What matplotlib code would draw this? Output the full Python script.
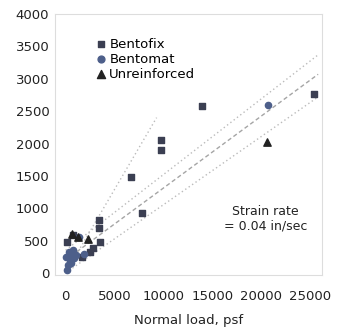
import matplotlib
matplotlib.use("Agg")
import matplotlib.pyplot as plt

# Data (normal load psf, shear strength psf)
bentofix_x = [9700, 9700, 6700, 7800, 3450, 3450, 3500, 2450, 1650, 100, 13900, 25400, 720, 2800]
bentofix_y = [2050, 1900, 1480, 930, 820, 700, 480, 330, 250, 480, 2580, 2770, 590, 380]

bentomat_x = [0, 300, 500, 800, 1100, 200, 600, 900, 100, 400, 20700, 1400, 1900, 700]
bentomat_y = [250, 320, 200, 350, 280, 120, 150, 230, 40, 300, 2600, 560, 300, 300]

unreinf_x = [20600, 700, 1300, 2250]
unreinf_y = [2020, 600, 560, 520]

# envelope lines (x endpoints, y endpoints)
line_upper_x = [0, 9300]
line_upper_y = [0, 2400]
line_top_x = [0, 25800]
line_top_y = [350, 3370]
line_mean_x = [0, 25800]
line_mean_y = [200, 3070]
line_low_x = [0, 25800]
line_low_y = [0, 2720]

plt.rcParams['font.family'] = ['DejaVu Sans']
fig = plt.figure(figsize=(3.47, 3.28), dpi=100)
ax = fig.add_axes([0.158, 0.162, 0.77, 0.795])

lc = '#bbbbbb'
ax.plot(line_upper_x, line_upper_y, ls=(0, (1, 2)), color=lc, lw=1.0, zorder=1)
ax.plot(line_top_x, line_top_y, ls=(0, (1, 2)), color=lc, lw=1.0, zorder=1)
ax.plot(line_mean_x, line_mean_y, ls=(0, (3, 2)), color='#a5a5a5', lw=1.0, zorder=1)
ax.plot(line_low_x, line_low_y, ls=(0, (1, 2)), color=lc, lw=1.0, zorder=1)

ax.scatter(bentofix_x, bentofix_y, marker='s', s=20, color='#3b3f52', label='Bentofix', zorder=3)
ax.scatter(bentomat_x, bentomat_y, marker='o', s=20, color='#4d5f8a', label='Bentomat', zorder=3)
ax.scatter(unreinf_x, unreinf_y, marker='^', s=28, color='#222222', label='Unreinforced', zorder=3)

ax.set_xlim(-1100, 26200)
ax.set_ylim(-30, 4000)
ax.set_xticks([0, 5000, 10000, 15000, 20000, 25000])
ax.set_yticks([0, 500, 1000, 1500, 2000, 2500, 3000, 3500, 4000])
for s in ax.spines.values():
    s.set_color('#dddddd')
    s.set_linewidth(0.8)
ax.tick_params(length=0, labelsize=9.5, colors='#222222')
ax.tick_params(axis='x', pad=11)
ax.tick_params(axis='y', pad=4)
ax.set_xlabel('Normal load, psf', fontsize=9.5, color='#222222', labelpad=8)

leg = ax.legend(loc='upper left', bbox_to_anchor=(0.13, 0.935), frameon=False,
                fontsize=9.5, handletextpad=0.2, borderpad=0.0, labelspacing=0.15,
                handlelength=0.8, markerscale=1.1)

ax.text(20400, 830, 'Strain rate\n= 0.04 in/sec', ha='center', va='center',
        fontsize=9, color='#222222', linespacing=1.15)

fig.savefig('out.png', dpi=100)
